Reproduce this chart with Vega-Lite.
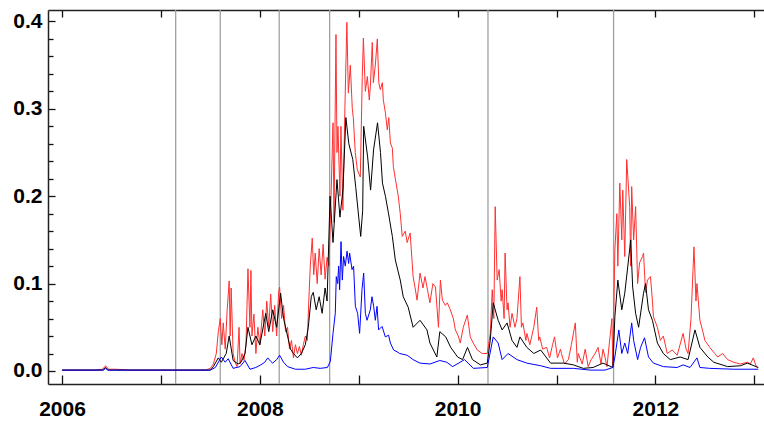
{
"$schema":"https://vega.github.io/schema/vega-lite/v6.json",
"width":716,"height":374,
"autosize":{"type":"none"},
"padding":{"left":48,"top":10,"right":0,"bottom":39},
"background":"white",
"config":{"view":{"stroke":null},"axis":{"labelFont":"Liberation Sans","labelFontWeight":"bold","labelFontSize":21,"labelColor":"#000","domainColor":"#222","domainWidth":1.5,"tickColor":"#111","tickWidth":1.3,"grid":false,"title":null}},
"resolve":{"axis":{"x":"independent","y":"independent"}},
"layer":[
{"data":{"values":[{"t":2007.149},{"t":2007.6},{"t":2008.196},{"t":2008.706},{"t":2010.307},{"t":2011.577}]},
"mark":{"type":"rule","color":"#a0a0a0","strokeWidth":1.3},
"encoding":{"x":{"field":"t","type":"quantitative","scale":{"domain":[2005.858,2013.098],"nice":false,"zero":false},"axis":{"orient":"top","title":null,"values":[2006,2007,2008,2009,2010,2011,2012,2013],"labels":false,"domain":false,"offset":-7,"tickSize":7}}}},
{"data":{"values":[
{"t":2006.0,"v":0.001},{"t":2006.337,"v":0.001},{"t":2006.41,"v":0.002},{"t":2006.44,"v":0.006},{"t":2006.47,"v":0.002},{"t":2006.54,"v":0.002},{"t":2006.69,"v":0.001},{"t":2007.15,"v":0.001},{"t":2007.45,"v":0.001},{"t":2007.5,"v":0.003},{"t":2007.53,"v":0.008},{"t":2007.56,"v":0.02},{"t":2007.58,"v":0.045},{"t":2007.6,"v":0.06},{"t":2007.616,"v":0.03},{"t":2007.63,"v":0.055},{"t":2007.65,"v":0.025},{"t":2007.67,"v":0.07},{"t":2007.69,"v":0.103},{"t":2007.7,"v":0.04},{"t":2007.71,"v":0.095},{"t":2007.73,"v":0.02},{"t":2007.75,"v":0.01},{"t":2007.77,"v":0.005},{"t":2007.79,"v":0.05},{"t":2007.8,"v":0.008},{"t":2007.82,"v":0.02},{"t":2007.84,"v":0.012},{"t":2007.86,"v":0.03},{"t":2007.88,"v":0.117},{"t":2007.9,"v":0.05},{"t":2007.91,"v":0.115},{"t":2007.92,"v":0.04},{"t":2007.94,"v":0.065},{"t":2007.96,"v":0.02},{"t":2007.98,"v":0.05},{"t":2008.0,"v":0.03},{"t":2008.03,"v":0.07},{"t":2008.05,"v":0.04},{"t":2008.07,"v":0.08},{"t":2008.09,"v":0.05},{"t":2008.11,"v":0.088},{"t":2008.13,"v":0.045},{"t":2008.15,"v":0.075},{"t":2008.17,"v":0.04},{"t":2008.19,"v":0.09},{"t":2008.2,"v":0.096},{"t":2008.22,"v":0.06},{"t":2008.24,"v":0.075},{"t":2008.26,"v":0.045},{"t":2008.28,"v":0.05},{"t":2008.3,"v":0.025},{"t":2008.32,"v":0.035},{"t":2008.34,"v":0.015},{"t":2008.36,"v":0.03},{"t":2008.38,"v":0.02},{"t":2008.4,"v":0.028},{"t":2008.42,"v":0.018},{"t":2008.44,"v":0.03},{"t":2008.46,"v":0.04},{"t":2008.48,"v":0.035},{"t":2008.495,"v":0.08},{"t":2008.51,"v":0.12},{"t":2008.53,"v":0.152},{"t":2008.545,"v":0.11},{"t":2008.56,"v":0.135},{"t":2008.58,"v":0.1},{"t":2008.6,"v":0.14},{"t":2008.62,"v":0.11},{"t":2008.64,"v":0.145},{"t":2008.66,"v":0.105},{"t":2008.68,"v":0.13},{"t":2008.7,"v":0.12},{"t":2008.72,"v":0.2},{"t":2008.74,"v":0.284},{"t":2008.75,"v":0.17},{"t":2008.77,"v":0.385},{"t":2008.78,"v":0.25},{"t":2008.79,"v":0.28},{"t":2008.81,"v":0.2},{"t":2008.82,"v":0.28},{"t":2008.84,"v":0.184},{"t":2008.86,"v":0.3},{"t":2008.88,"v":0.399},{"t":2008.895,"v":0.318},{"t":2008.915,"v":0.35},{"t":2008.935,"v":0.3},{"t":2008.945,"v":0.29},{"t":2008.965,"v":0.25},{"t":2008.986,"v":0.23},{"t":2009.016,"v":0.222},{"t":2009.036,"v":0.337},{"t":2009.047,"v":0.381},{"t":2009.067,"v":0.32},{"t":2009.087,"v":0.337},{"t":2009.107,"v":0.31},{"t":2009.117,"v":0.325},{"t":2009.137,"v":0.376},{"t":2009.148,"v":0.33},{"t":2009.168,"v":0.35},{"t":2009.188,"v":0.38},{"t":2009.203,"v":0.33},{"t":2009.218,"v":0.322},{"t":2009.239,"v":0.33},{"t":2009.249,"v":0.31},{"t":2009.269,"v":0.296},{"t":2009.289,"v":0.276},{"t":2009.304,"v":0.29},{"t":2009.32,"v":0.261},{"t":2009.34,"v":0.255},{"t":2009.35,"v":0.234},{"t":2009.37,"v":0.22},{"t":2009.4,"v":0.2},{"t":2009.42,"v":0.18},{"t":2009.44,"v":0.154},{"t":2009.47,"v":0.16},{"t":2009.49,"v":0.147},{"t":2009.52,"v":0.158},{"t":2009.55,"v":0.108},{"t":2009.57,"v":0.095},{"t":2009.59,"v":0.081},{"t":2009.62,"v":0.112},{"t":2009.65,"v":0.095},{"t":2009.67,"v":0.108},{"t":2009.7,"v":0.09},{"t":2009.72,"v":0.078},{"t":2009.75,"v":0.1},{"t":2009.776,"v":0.096},{"t":2009.806,"v":0.05},{"t":2009.826,"v":0.104},{"t":2009.846,"v":0.081},{"t":2009.876,"v":0.075},{"t":2009.896,"v":0.078},{"t":2009.926,"v":0.07},{"t":2009.957,"v":0.06},{"t":2009.977,"v":0.047},{"t":2010.007,"v":0.04},{"t":2010.027,"v":0.032},{"t":2010.057,"v":0.05},{"t":2010.098,"v":0.064},{"t":2010.128,"v":0.039},{"t":2010.158,"v":0.032},{"t":2010.199,"v":0.024},{"t":2010.249,"v":0.02},{"t":2010.3,"v":0.02},{"t":2010.33,"v":0.043},{"t":2010.35,"v":0.093},{"t":2010.366,"v":0.06},{"t":2010.38,"v":0.188},{"t":2010.4,"v":0.104},{"t":2010.42,"v":0.116},{"t":2010.44,"v":0.08},{"t":2010.45,"v":0.093},{"t":2010.47,"v":0.06},{"t":2010.48,"v":0.135},{"t":2010.5,"v":0.07},{"t":2010.51,"v":0.078},{"t":2010.53,"v":0.05},{"t":2010.55,"v":0.066},{"t":2010.58,"v":0.05},{"t":2010.6,"v":0.06},{"t":2010.63,"v":0.108},{"t":2010.645,"v":0.05},{"t":2010.66,"v":0.055},{"t":2010.69,"v":0.035},{"t":2010.7,"v":0.043},{"t":2010.73,"v":0.03},{"t":2010.77,"v":0.05},{"t":2010.8,"v":0.073},{"t":2010.82,"v":0.035},{"t":2010.83,"v":0.039},{"t":2010.86,"v":0.025},{"t":2010.9,"v":0.027},{"t":2010.93,"v":0.015},{"t":2010.96,"v":0.03},{"t":2010.98,"v":0.039},{"t":2011.01,"v":0.015},{"t":2011.04,"v":0.025},{"t":2011.05,"v":0.02},{"t":2011.08,"v":0.008},{"t":2011.12,"v":0.013},{"t":2011.15,"v":0.03},{"t":2011.19,"v":0.055},{"t":2011.21,"v":0.01},{"t":2011.22,"v":0.02},{"t":2011.26,"v":0.008},{"t":2011.29,"v":0.025},{"t":2011.32,"v":0.005},{"t":2011.35,"v":0.013},{"t":2011.39,"v":0.02},{"t":2011.42,"v":0.027},{"t":2011.45,"v":0.008},{"t":2011.47,"v":0.025},{"t":2011.49,"v":0.016},{"t":2011.51,"v":0.005},{"t":2011.56,"v":0.06},{"t":2011.57,"v":0.005},{"t":2011.59,"v":0.139},{"t":2011.61,"v":0.18},{"t":2011.62,"v":0.12},{"t":2011.64,"v":0.215},{"t":2011.66,"v":0.15},{"t":2011.67,"v":0.207},{"t":2011.69,"v":0.131},{"t":2011.71,"v":0.242},{"t":2011.74,"v":0.188},{"t":2011.75,"v":0.12},{"t":2011.76,"v":0.211},{"t":2011.78,"v":0.15},{"t":2011.8,"v":0.188},{"t":2011.82,"v":0.1},{"t":2011.84,"v":0.124},{"t":2011.87,"v":0.131},{"t":2011.88,"v":0.135},{"t":2011.9,"v":0.09},{"t":2011.92,"v":0.104},{"t":2011.95,"v":0.108},{"t":2011.97,"v":0.08},{"t":2011.98,"v":0.062},{"t":2012.02,"v":0.05},{"t":2012.05,"v":0.035},{"t":2012.08,"v":0.04},{"t":2012.12,"v":0.02},{"t":2012.17,"v":0.024},{"t":2012.22,"v":0.018},{"t":2012.28,"v":0.043},{"t":2012.31,"v":0.025},{"t":2012.33,"v":0.02},{"t":2012.36,"v":0.06},{"t":2012.39,"v":0.142},{"t":2012.41,"v":0.08},{"t":2012.42,"v":0.1},{"t":2012.45,"v":0.058},{"t":2012.48,"v":0.045},{"t":2012.5,"v":0.035},{"t":2012.55,"v":0.027},{"t":2012.6,"v":0.02},{"t":2012.63,"v":0.016},{"t":2012.68,"v":0.02},{"t":2012.73,"v":0.013},{"t":2012.79,"v":0.01},{"t":2012.86,"v":0.008},{"t":2012.93,"v":0.01},{"t":2012.96,"v":0.008},{"t":2012.99,"v":0.015},{"t":2013.02,"v":0.005},{"t":2013.04,"v":0.004}
]},
"mark":{"type":"line","color":"#ff3030","strokeWidth":1},
"encoding":{
"x":{"field":"t","type":"quantitative","axis":{"orient":"bottom","title":null,"values":[2006,2007,2008,2009,2010,2011,2012,2013],"format":"d","labelExpr":"datum.value % 2 == 0 ? datum.label : ''","domain":false,"offset":-9,"tickSize":9,"labelPadding":14,"labelBaseline":"top"}},
"y":{"field":"v","type":"quantitative","scale":{"domain":[-0.0149,0.4131],"nice":false,"zero":false},"axis":{"orient":"left","title":null,"values":[0,0.1,0.2,0.3,0.4],"format":".1f","domain":false,"offset":-7,"tickSize":7,"labelPadding":6}}}},
{"data":{"values":[
{"t":2006.0,"v":0.001},{"t":2006.41,"v":0.001},{"t":2006.44,"v":0.004},{"t":2006.47,"v":0.001},{"t":2007.5,"v":0.001},{"t":2007.53,"v":0.005},{"t":2007.58,"v":0.015},{"t":2007.61,"v":0.01},{"t":2007.66,"v":0.02},{"t":2007.69,"v":0.04},{"t":2007.73,"v":0.012},{"t":2007.78,"v":0.008},{"t":2007.81,"v":0.01},{"t":2007.85,"v":0.02},{"t":2007.88,"v":0.05},{"t":2007.92,"v":0.03},{"t":2007.96,"v":0.04},{"t":2008.0,"v":0.03},{"t":2008.06,"v":0.066},{"t":2008.09,"v":0.045},{"t":2008.13,"v":0.07},{"t":2008.17,"v":0.05},{"t":2008.21,"v":0.089},{"t":2008.24,"v":0.06},{"t":2008.28,"v":0.04},{"t":2008.31,"v":0.025},{"t":2008.34,"v":0.02},{"t":2008.38,"v":0.015},{"t":2008.42,"v":0.02},{"t":2008.46,"v":0.03},{"t":2008.49,"v":0.05},{"t":2008.52,"v":0.085},{"t":2008.54,"v":0.09},{"t":2008.57,"v":0.07},{"t":2008.6,"v":0.085},{"t":2008.63,"v":0.066},{"t":2008.66,"v":0.095},{"t":2008.68,"v":0.08},{"t":2008.71,"v":0.2},{"t":2008.74,"v":0.147},{"t":2008.78,"v":0.219},{"t":2008.81,"v":0.176},{"t":2008.84,"v":0.207},{"t":2008.87,"v":0.29},{"t":2008.9,"v":0.26},{"t":2008.94,"v":0.242},{"t":2008.97,"v":0.21},{"t":2009.0,"v":0.176},{"t":2009.02,"v":0.154},{"t":2009.04,"v":0.184},{"t":2009.05,"v":0.28},{"t":2009.09,"v":0.245},{"t":2009.12,"v":0.207},{"t":2009.15,"v":0.253},{"t":2009.19,"v":0.284},{"t":2009.22,"v":0.25},{"t":2009.24,"v":0.215},{"t":2009.27,"v":0.2},{"t":2009.3,"v":0.181},{"t":2009.34,"v":0.154},{"t":2009.37,"v":0.127},{"t":2009.42,"v":0.104},{"t":2009.45,"v":0.085},{"t":2009.5,"v":0.073},{"t":2009.55,"v":0.05},{"t":2009.62,"v":0.058},{"t":2009.69,"v":0.047},{"t":2009.72,"v":0.032},{"t":2009.79,"v":0.016},{"t":2009.82,"v":0.045},{"t":2009.88,"v":0.039},{"t":2009.93,"v":0.027},{"t":2010.0,"v":0.016},{"t":2010.05,"v":0.013},{"t":2010.1,"v":0.027},{"t":2010.15,"v":0.013},{"t":2010.23,"v":0.007},{"t":2010.3,"v":0.009},{"t":2010.33,"v":0.035},{"t":2010.36,"v":0.078},{"t":2010.41,"v":0.058},{"t":2010.45,"v":0.047},{"t":2010.5,"v":0.055},{"t":2010.55,"v":0.035},{"t":2010.6,"v":0.027},{"t":2010.63,"v":0.039},{"t":2010.7,"v":0.027},{"t":2010.77,"v":0.02},{"t":2010.84,"v":0.024},{"t":2010.94,"v":0.009},{"t":2011.07,"v":0.009},{"t":2011.17,"v":0.007},{"t":2011.27,"v":0.003},{"t":2011.37,"v":0.004},{"t":2011.47,"v":0.009},{"t":2011.57,"v":0.004},{"t":2011.59,"v":0.062},{"t":2011.62,"v":0.104},{"t":2011.66,"v":0.07},{"t":2011.69,"v":0.089},{"t":2011.72,"v":0.119},{"t":2011.75,"v":0.15},{"t":2011.77,"v":0.096},{"t":2011.8,"v":0.066},{"t":2011.83,"v":0.05},{"t":2011.88,"v":0.089},{"t":2011.9,"v":0.1},{"t":2011.93,"v":0.07},{"t":2011.97,"v":0.058},{"t":2012.02,"v":0.032},{"t":2012.08,"v":0.02},{"t":2012.15,"v":0.013},{"t":2012.25,"v":0.016},{"t":2012.33,"v":0.013},{"t":2012.4,"v":0.047},{"t":2012.45,"v":0.027},{"t":2012.53,"v":0.016},{"t":2012.59,"v":0.01},{"t":2012.73,"v":0.005},{"t":2012.86,"v":0.006},{"t":2012.93,"v":0.009},{"t":2013.04,"v":0.004}
]},
"mark":{"type":"line","color":"#000000","strokeWidth":1},
"encoding":{"x":{"field":"t","type":"quantitative","axis":{"orient":"bottom","title":null,"labels":false,"ticks":false,"domain":true}},"y":{"field":"v","type":"quantitative","axis":{"orient":"left","title":null,"values":[0.02,0.04,0.06,0.08,0.12,0.14,0.16,0.18,0.22,0.24,0.26,0.28,0.32,0.34,0.36,0.38],"labels":false,"domain":false,"offset":-5,"tickSize":5}}}},
{"data":{"values":[
{"t":2006.0,"v":0.001},{"t":2006.42,"v":0.001},{"t":2006.44,"v":0.003},{"t":2006.46,"v":0.001},{"t":2007.5,"v":0.001},{"t":2007.55,"v":0.004},{"t":2007.59,"v":0.012},{"t":2007.61,"v":0.016},{"t":2007.65,"v":0.01},{"t":2007.68,"v":0.014},{"t":2007.73,"v":0.003},{"t":2007.8,"v":0.005},{"t":2007.85,"v":0.012},{"t":2007.9,"v":0.002},{"t":2007.96,"v":0.004},{"t":2008.01,"v":0.007},{"t":2008.05,"v":0.01},{"t":2008.08,"v":0.015},{"t":2008.11,"v":0.011},{"t":2008.13,"v":0.009},{"t":2008.17,"v":0.013},{"t":2008.2,"v":0.018},{"t":2008.24,"v":0.01},{"t":2008.28,"v":0.005},{"t":2008.36,"v":0.002},{"t":2008.46,"v":0.002},{"t":2008.54,"v":0.004},{"t":2008.61,"v":0.003},{"t":2008.683,"v":0.004},{"t":2008.713,"v":0.011},{"t":2008.74,"v":0.043},{"t":2008.763,"v":0.066},{"t":2008.773,"v":0.108},{"t":2008.787,"v":0.1},{"t":2008.797,"v":0.12},{"t":2008.807,"v":0.093},{"t":2008.821,"v":0.148},{"t":2008.834,"v":0.104},{"t":2008.847,"v":0.131},{"t":2008.864,"v":0.12},{"t":2008.882,"v":0.137},{"t":2008.898,"v":0.123},{"t":2008.908,"v":0.135},{"t":2008.932,"v":0.116},{"t":2008.948,"v":0.12},{"t":2008.966,"v":0.074},{"t":2008.989,"v":0.066},{"t":2009.009,"v":0.043},{"t":2009.033,"v":0.093},{"t":2009.05,"v":0.112},{"t":2009.067,"v":0.066},{"t":2009.084,"v":0.058},{"t":2009.117,"v":0.07},{"t":2009.134,"v":0.085},{"t":2009.151,"v":0.074},{"t":2009.168,"v":0.058},{"t":2009.185,"v":0.074},{"t":2009.201,"v":0.047},{"t":2009.236,"v":0.051},{"t":2009.269,"v":0.039},{"t":2009.302,"v":0.041},{"t":2009.32,"v":0.032},{"t":2009.353,"v":0.024},{"t":2009.387,"v":0.022},{"t":2009.414,"v":0.02},{"t":2009.49,"v":0.018},{"t":2009.55,"v":0.013},{"t":2009.62,"v":0.009},{"t":2009.72,"v":0.008},{"t":2009.82,"v":0.012},{"t":2009.89,"v":0.01},{"t":2009.95,"v":0.005},{"t":2010.07,"v":0.013},{"t":2010.16,"v":0.003},{"t":2010.3,"v":0.004},{"t":2010.36,"v":0.039},{"t":2010.41,"v":0.032},{"t":2010.45,"v":0.013},{"t":2010.51,"v":0.02},{"t":2010.6,"v":0.013},{"t":2010.7,"v":0.009},{"t":2010.84,"v":0.006},{"t":2010.94,"v":0.003},{"t":2011.17,"v":0.003},{"t":2011.34,"v":0.001},{"t":2011.49,"v":0.001},{"t":2011.57,"v":0.004},{"t":2011.59,"v":0.016},{"t":2011.63,"v":0.047},{"t":2011.66,"v":0.02},{"t":2011.69,"v":0.032},{"t":2011.72,"v":0.02},{"t":2011.76,"v":0.055},{"t":2011.78,"v":0.035},{"t":2011.82,"v":0.013},{"t":2011.85,"v":0.027},{"t":2011.89,"v":0.038},{"t":2011.93,"v":0.016},{"t":2011.98,"v":0.009},{"t":2012.08,"v":0.005},{"t":2012.22,"v":0.004},{"t":2012.28,"v":0.007},{"t":2012.35,"v":0.004},{"t":2012.42,"v":0.015},{"t":2012.45,"v":0.004},{"t":2012.55,"v":0.003},{"t":2012.79,"v":0.002},{"t":2013.04,"v":0.002}
]},
"mark":{"type":"line","color":"#0000ff","strokeWidth":1},
"encoding":{"x":{"field":"t","type":"quantitative","axis":{"orient":"top","title":null,"labels":false,"ticks":false,"domain":true}},"y":{"field":"v","type":"quantitative","axis":{"orient":"left","title":null,"labels":false,"ticks":false,"domain":true}}}}
]
}
